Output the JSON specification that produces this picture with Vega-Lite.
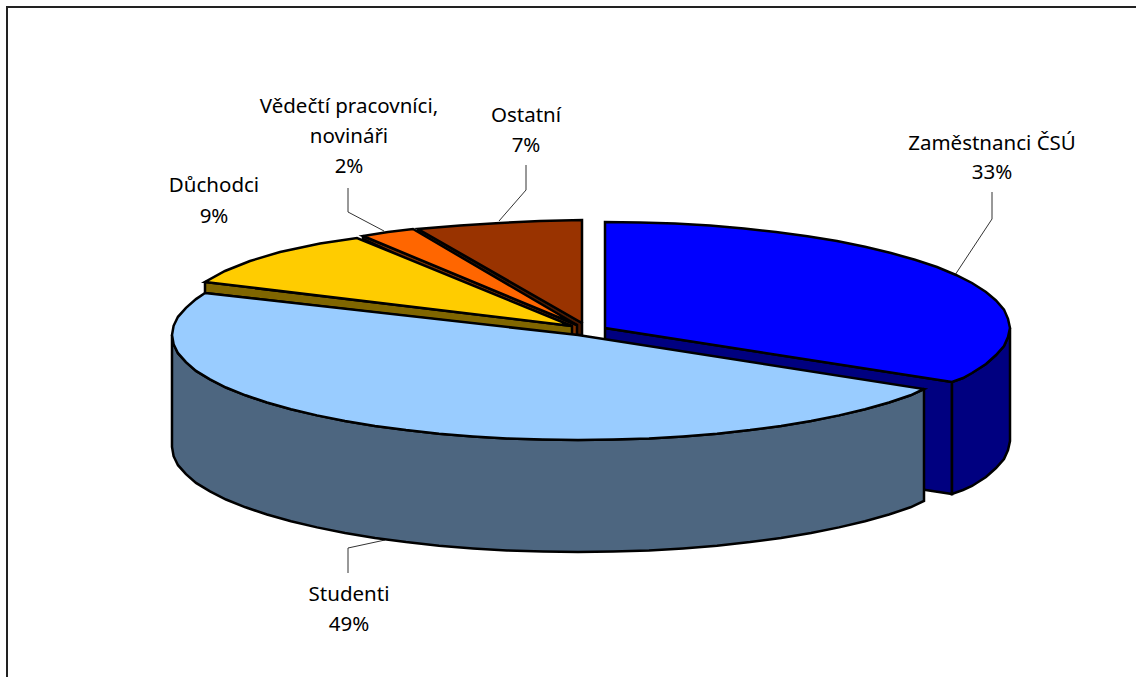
{"$schema":"https://vega.github.io/schema/vega-lite/v6.json","autosize":{"type":"none"},"padding":0,"width":1136,"height":677,"background":"white","config":{"view":{"stroke":null}},
"datasets":{"shapes":[
{"p":"a_inner","i":1,"x":605,"y":328},{"p":"a_inner","i":2,"x":952,"y":382},{"p":"a_inner","i":3,"x":952,"y":494},{"p":"a_inner","i":4,"x":605,"y":441},{"p":"a_inner","i":5,"x":605,"y":328},
{"p":"b_outer","i":1,"x":1010,"y":328},{"p":"b_outer","i":2,"x":1008,"y":337},{"p":"b_outer","i":3,"x":1004,"y":346},{"p":"b_outer","i":4,"x":996,"y":355},{"p":"b_outer","i":5,"x":986,"y":364},{"p":"b_outer","i":6,"x":972,"y":373},{"p":"b_outer","i":7,"x":963,"y":378},{"p":"b_outer","i":8,"x":952,"y":382},{"p":"b_outer","i":9,"x":952,"y":494},{"p":"b_outer","i":10,"x":963,"y":490},{"p":"b_outer","i":11,"x":972,"y":486},{"p":"b_outer","i":12,"x":986,"y":477},{"p":"b_outer","i":13,"x":996,"y":468},{"p":"b_outer","i":14,"x":1004,"y":459},{"p":"b_outer","i":15,"x":1008,"y":450},{"p":"b_outer","i":16,"x":1010,"y":441},{"p":"b_outer","i":17,"x":1010,"y":328},
{"p":"c_top","i":1,"x":605,"y":328},{"p":"c_top","i":2,"x":605,"y":222},{"p":"c_top","i":3,"x":640,"y":222.4},{"p":"c_top","i":4,"x":675,"y":223.6},{"p":"c_top","i":5,"x":710,"y":225.6},{"p":"c_top","i":6,"x":744,"y":228.4},{"p":"c_top","i":7,"x":776,"y":232},{"p":"c_top","i":8,"x":807.5,"y":236.2},{"p":"c_top","i":9,"x":837,"y":241},{"p":"c_top","i":10,"x":865,"y":246.8},{"p":"c_top","i":11,"x":891,"y":253},{"p":"c_top","i":12,"x":915,"y":259.8},{"p":"c_top","i":13,"x":937,"y":267},{"p":"c_top","i":14,"x":956,"y":275},{"p":"c_top","i":15,"x":972,"y":283},{"p":"c_top","i":16,"x":986,"y":292},{"p":"c_top","i":17,"x":996,"y":300.5},{"p":"c_top","i":18,"x":1004,"y":309.6},{"p":"c_top","i":19,"x":1008,"y":318.8},{"p":"c_top","i":20,"x":1010,"y":328},{"p":"c_top","i":21,"x":1008,"y":337},{"p":"c_top","i":22,"x":1004,"y":346},{"p":"c_top","i":23,"x":996,"y":355},{"p":"c_top","i":24,"x":986,"y":364},{"p":"c_top","i":25,"x":972,"y":373},{"p":"c_top","i":26,"x":963,"y":378},{"p":"c_top","i":27,"x":952,"y":382},{"p":"c_top","i":28,"x":605,"y":328},
{"p":"d_wall","i":1,"x":418,"y":229},{"p":"d_wall","i":2,"x":582,"y":323},{"p":"d_wall","i":3,"x":582,"y":335},{"p":"d_wall","i":4,"x":577,"y":335},{"p":"d_wall","i":5,"x":418,"y":232},{"p":"d_wall","i":6,"x":418,"y":229},
{"p":"e_top","i":1,"x":582,"y":323},{"p":"e_top","i":2,"x":582,"y":220},{"p":"e_top","i":3,"x":540,"y":221},{"p":"e_top","i":4,"x":500,"y":223},{"p":"e_top","i":5,"x":460,"y":225.5},{"p":"e_top","i":6,"x":418,"y":229},{"p":"e_top","i":7,"x":582,"y":323},
{"p":"f_wall","i":1,"x":363,"y":236},{"p":"f_wall","i":2,"x":577,"y":325},{"p":"f_wall","i":3,"x":577,"y":335},{"p":"f_wall","i":4,"x":572,"y":335},{"p":"f_wall","i":5,"x":363,"y":239},{"p":"f_wall","i":6,"x":363,"y":236},
{"p":"g_top","i":1,"x":577,"y":325},{"p":"g_top","i":2,"x":363,"y":236},{"p":"g_top","i":3,"x":388,"y":232},{"p":"g_top","i":4,"x":413,"y":229},{"p":"g_top","i":5,"x":577,"y":325},
{"p":"h_wall","i":1,"x":205,"y":282},{"p":"h_wall","i":2,"x":572,"y":326},{"p":"h_wall","i":3,"x":572,"y":335},{"p":"h_wall","i":4,"x":205,"y":293},{"p":"h_wall","i":5,"x":205,"y":282},
{"p":"i_top","i":1,"x":572,"y":326},{"p":"i_top","i":2,"x":205,"y":282},{"p":"i_top","i":3,"x":225,"y":271},{"p":"i_top","i":4,"x":250,"y":261},{"p":"i_top","i":5,"x":280,"y":252},{"p":"i_top","i":6,"x":320,"y":243.5},{"p":"i_top","i":7,"x":357,"y":238},{"p":"i_top","i":8,"x":572,"y":326},
{"p":"j_wall","i":1,"x":924,"y":389},{"p":"j_wall","i":2,"x":910.5,"y":395.3},{"p":"j_wall","i":3,"x":889,"y":402.5},{"p":"j_wall","i":4,"x":865,"y":409.2},{"p":"j_wall","i":5,"x":839,"y":415.4},{"p":"j_wall","i":6,"x":811,"y":421},{"p":"j_wall","i":7,"x":781,"y":425.9},{"p":"j_wall","i":8,"x":750,"y":430.1},{"p":"j_wall","i":9,"x":717,"y":433.7},{"p":"j_wall","i":10,"x":683,"y":436.4},{"p":"j_wall","i":11,"x":649,"y":438.4},{"p":"j_wall","i":12,"x":613,"y":439.6},{"p":"j_wall","i":13,"x":578,"y":440},{"p":"j_wall","i":14,"x":543,"y":439.6},{"p":"j_wall","i":15,"x":507,"y":438.4},{"p":"j_wall","i":16,"x":473,"y":436.4},{"p":"j_wall","i":17,"x":439,"y":433.7},{"p":"j_wall","i":18,"x":406,"y":430.1},{"p":"j_wall","i":19,"x":375,"y":425.9},{"p":"j_wall","i":20,"x":345,"y":421},{"p":"j_wall","i":21,"x":317,"y":415.4},{"p":"j_wall","i":22,"x":291,"y":409.2},{"p":"j_wall","i":23,"x":267,"y":402.5},{"p":"j_wall","i":24,"x":245.5,"y":395.3},{"p":"j_wall","i":25,"x":226,"y":387.5},{"p":"j_wall","i":26,"x":210,"y":379.4},{"p":"j_wall","i":27,"x":196,"y":370.9},{"p":"j_wall","i":28,"x":186,"y":362.2},{"p":"j_wall","i":29,"x":178,"y":353.2},{"p":"j_wall","i":30,"x":173.6,"y":344.2},{"p":"j_wall","i":31,"x":172,"y":335},
{"p":"j_wall","i":32,"x":172,"y":447},{"p":"j_wall","i":33,"x":173.6,"y":456.2},{"p":"j_wall","i":34,"x":178,"y":465.2},{"p":"j_wall","i":35,"x":186,"y":474.2},{"p":"j_wall","i":36,"x":196,"y":482.9},{"p":"j_wall","i":37,"x":210,"y":491.4},{"p":"j_wall","i":38,"x":226,"y":499.5},{"p":"j_wall","i":39,"x":245.5,"y":507.3},{"p":"j_wall","i":40,"x":267,"y":514.5},{"p":"j_wall","i":41,"x":291,"y":521.2},{"p":"j_wall","i":42,"x":317,"y":527.4},{"p":"j_wall","i":43,"x":345,"y":533},{"p":"j_wall","i":44,"x":375,"y":537.9},{"p":"j_wall","i":45,"x":406,"y":542.1},{"p":"j_wall","i":46,"x":439,"y":545.7},{"p":"j_wall","i":47,"x":473,"y":548.4},{"p":"j_wall","i":48,"x":507,"y":550.4},{"p":"j_wall","i":49,"x":543,"y":551.6},{"p":"j_wall","i":50,"x":578,"y":552},{"p":"j_wall","i":51,"x":613,"y":551.6},{"p":"j_wall","i":52,"x":649,"y":550.4},{"p":"j_wall","i":53,"x":683,"y":548.4},{"p":"j_wall","i":54,"x":717,"y":545.7},{"p":"j_wall","i":55,"x":750,"y":542.1},{"p":"j_wall","i":56,"x":781,"y":537.9},{"p":"j_wall","i":57,"x":811,"y":533},{"p":"j_wall","i":58,"x":839,"y":527.4},{"p":"j_wall","i":59,"x":865,"y":521.2},{"p":"j_wall","i":60,"x":889,"y":514.5},{"p":"j_wall","i":61,"x":910.5,"y":507.3},{"p":"j_wall","i":62,"x":924,"y":501},{"p":"j_wall","i":63,"x":924,"y":389},
{"p":"k_top","i":1,"x":578,"y":335},{"p":"k_top","i":2,"x":924,"y":389},{"p":"k_top","i":3,"x":910.5,"y":395.3},{"p":"k_top","i":4,"x":889,"y":402.5},{"p":"k_top","i":5,"x":865,"y":409.2},{"p":"k_top","i":6,"x":839,"y":415.4},{"p":"k_top","i":7,"x":811,"y":421},{"p":"k_top","i":8,"x":781,"y":425.9},{"p":"k_top","i":9,"x":750,"y":430.1},{"p":"k_top","i":10,"x":717,"y":433.7},{"p":"k_top","i":11,"x":683,"y":436.4},{"p":"k_top","i":12,"x":649,"y":438.4},{"p":"k_top","i":13,"x":613,"y":439.6},{"p":"k_top","i":14,"x":578,"y":440},{"p":"k_top","i":15,"x":543,"y":439.6},{"p":"k_top","i":16,"x":507,"y":438.4},{"p":"k_top","i":17,"x":473,"y":436.4},{"p":"k_top","i":18,"x":439,"y":433.7},{"p":"k_top","i":19,"x":406,"y":430.1},{"p":"k_top","i":20,"x":375,"y":425.9},{"p":"k_top","i":21,"x":345,"y":421},{"p":"k_top","i":22,"x":317,"y":415.4},{"p":"k_top","i":23,"x":291,"y":409.2},{"p":"k_top","i":24,"x":267,"y":402.5},{"p":"k_top","i":25,"x":245.5,"y":395.3},{"p":"k_top","i":26,"x":226,"y":387.5},{"p":"k_top","i":27,"x":210,"y":379.4},{"p":"k_top","i":28,"x":196,"y":370.9},{"p":"k_top","i":29,"x":186,"y":362.2},{"p":"k_top","i":30,"x":178,"y":353.2},{"p":"k_top","i":31,"x":173.6,"y":344.2},{"p":"k_top","i":32,"x":172,"y":335},{"p":"k_top","i":33,"x":173.6,"y":325.8},{"p":"k_top","i":34,"x":178,"y":316.8},{"p":"k_top","i":35,"x":186,"y":307.8},{"p":"k_top","i":36,"x":196,"y":299.1},{"p":"k_top","i":37,"x":205,"y":293},{"p":"k_top","i":38,"x":578,"y":335}
],
"leaders":[
{"l":"zam","i":1,"x":992,"y":192},{"l":"zam","i":2,"x":992,"y":219},{"l":"zam","i":3,"x":955,"y":275},
{"l":"ost","i":1,"x":526,"y":165},{"l":"ost","i":2,"x":526,"y":190},{"l":"ost","i":3,"x":499,"y":221},
{"l":"ved","i":1,"x":348,"y":188},{"l":"ved","i":2,"x":348,"y":212},{"l":"ved","i":3,"x":384,"y":231},
{"l":"stu","i":1,"x":348,"y":573},{"l":"stu","i":2,"x":348,"y":548},{"l":"stu","i":3,"x":385,"y":540}
],
"frame":[{"l":"f","i":1,"x":7,"y":677},{"l":"f","i":2,"x":7,"y":7},{"l":"f","i":3,"x":1136,"y":7}],
"labels":[
{"t":"Zaměstnanci ČSÚ","x":992,"y":150},{"t":"33%","x":992,"y":179},
{"t":"Ostatní","x":526,"y":122},{"t":"7%","x":526,"y":152},
{"t":"Vědečtí pracovníci,","x":349,"y":113},{"t":"novináři","x":349,"y":143},{"t":"2%","x":349,"y":173},
{"t":"Důchodci","x":214,"y":192},{"t":"9%","x":214,"y":223},
{"t":"Studenti","x":349,"y":601},{"t":"49%","x":349,"y":631}
]},
"encoding":{
"x":{"field":"x","type":"quantitative","scale":{"domain":[0,1136],"nice":false,"zero":false},"axis":null},
"y":{"field":"y","type":"quantitative","scale":{"domain":[677,0],"nice":false,"zero":false},"axis":null}
},
"layer":[
{"data":{"name":"frame"},"mark":{"type":"line","stroke":"#222222","strokeWidth":2,"clip":false},"encoding":{"order":{"field":"i","type":"quantitative"}}},
{"data":{"name":"leaders"},"mark":{"type":"line","stroke":"#333333","strokeWidth":1},"encoding":{"detail":{"field":"l"},"order":{"field":"i","type":"quantitative"}}},
{"data":{"name":"shapes"},"mark":{"type":"line","stroke":"black","strokeWidth":2.5,"strokeJoin":"miter"},"encoding":{"fill":{"field":"p","type":"nominal","legend":null,"scale":{"domain":["a_inner","b_outer","c_top","d_wall","e_top","f_wall","g_top","h_wall","i_top","j_wall","k_top"],"range":["#000080","#000080","#0000FF","#4D1A00","#993300","#803300","#FF6600","#806600","#FFCC00","#4D6680","#99CCFF"]}},"order":{"field":"i","type":"quantitative"}}},
{"data":{"name":"labels"},"mark":{"type":"text","font":"Noto Sans","fontSize":20.5,"align":"center","baseline":"alphabetic","fill":"#000000"},"encoding":{"text":{"field":"t"}}}
]}
